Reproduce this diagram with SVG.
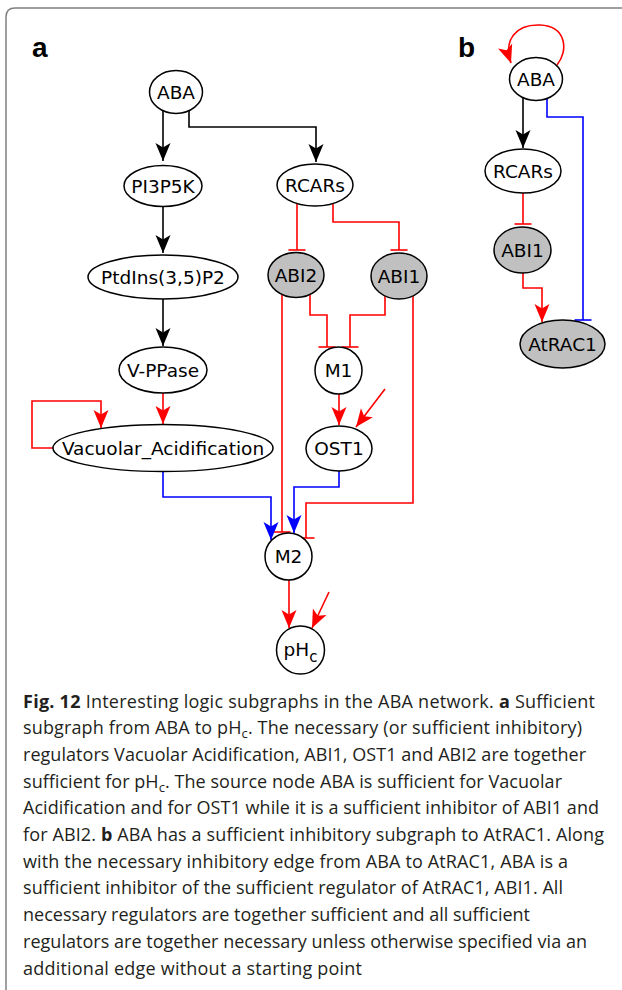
<svg xmlns="http://www.w3.org/2000/svg" width="622" height="990" viewBox="0 0 622 990">
  <style>
    .node ellipse, .node circle { fill: #fff; stroke: #000; stroke-width: 1.5; }
    .node.grey ellipse { fill: #c0c0c0; }
    .node text { font-family: "DejaVu Sans", sans-serif; font-size: 18.5px; text-anchor: middle; fill: #000; }
    .edge { fill: none; stroke-width: 1.6; }
    .k { stroke: #000; }
    .r { stroke: #ff0000; }
    .b { stroke: #0000ff; }
    .panel { font-family: "Liberation Sans", Arial, sans-serif; font-weight: bold; font-size: 28px; fill: #000; }
    .cap { font-family: "Open Sans", "Noto Sans", sans-serif; font-size: 18px; fill: #231f20; }
    .cap .bold { font-weight: bold; }
  </style>
  <defs>
    <marker id="ah-k" markerUnits="userSpaceOnUse" orient="auto" refX="0" refY="0" markerWidth="20" markerHeight="16" overflow="visible">
      <path d="M0,0 L-18,-7.5 L-13.5,0 L-18,7.5 Z" fill="#000"/>
    </marker>
    <marker id="ah-r" markerUnits="userSpaceOnUse" orient="auto" refX="0" refY="0" markerWidth="20" markerHeight="16" overflow="visible">
      <path d="M0,0 L-18,-7.5 L-13.5,0 L-18,7.5 Z" fill="#ff0000"/>
    </marker>
    <marker id="ah-b" markerUnits="userSpaceOnUse" orient="auto" refX="0" refY="0" markerWidth="20" markerHeight="16" overflow="visible">
      <path d="M0,0 L-18,-7.5 L-13.5,0 L-18,7.5 Z" fill="#0000ff"/>
    </marker>
    <marker id="tee-r" markerUnits="userSpaceOnUse" orient="auto" refX="0" refY="0" markerWidth="4" markerHeight="20" overflow="visible">
      <path d="M0,-8.5 V8.5" stroke="#ff0000" stroke-width="1.6"/>
    </marker>
    <marker id="tee-b" markerUnits="userSpaceOnUse" orient="auto" refX="0" refY="0" markerWidth="4" markerHeight="20" overflow="visible">
      <path d="M0,-8.5 V8.5" stroke="#0000ff" stroke-width="1.6"/>
    </marker>
  </defs>

  <rect width="622" height="990" fill="#fff"/>
  <!-- figure frame (open to the right and bottom) -->
  <path d="M6,990 V17 Q6,8 15,8 H622" fill="none" stroke="#808080" stroke-width="1.5"/>

  <text class="panel" x="32" y="57">a</text>
  <text class="panel" x="458" y="57">b</text>

  <!-- connectors -->
  <g id="edges">
    <!-- panel a -->
    <path class="edge k" d="M163,111 V161" marker-end="url(#ah-k)"/>
    <path class="edge k" d="M189,111 V127 H316 V162" marker-end="url(#ah-k)"/>
    <path class="edge k" d="M163,206 V253" marker-end="url(#ah-k)"/>
    <path class="edge k" d="M163,299 V346" marker-end="url(#ah-k)"/>
    <path class="edge r" d="M163,393 V424" marker-end="url(#ah-r)"/>
    <path class="edge r" d="M53,448 H32 V401 H101 V428" marker-end="url(#ah-r)"/>
    <path class="edge r" d="M297,204 V250" marker-end="url(#tee-r)"/>
    <path class="edge r" d="M333,204 V222 H399 V250" marker-end="url(#tee-r)"/>
    <path class="edge r" d="M310,295 V315 H327 V347" marker-end="url(#tee-r)"/>
    <path class="edge r" d="M385,296 V315 H350 V347" marker-end="url(#tee-r)"/>
    <path class="edge r" d="M339,394 V425" marker-end="url(#ah-r)"/>
    <path class="edge r" d="M385,389 L356,427" marker-end="url(#ah-r)"/>
    <path class="edge r" d="M282,295 V532" marker-end="url(#tee-r)"/>
    <path class="edge r" d="M413,296 V503 H306 V538" marker-end="url(#tee-r)"/>
    <path class="edge b" d="M163,472 V497 H271 V540" marker-end="url(#ah-b)"/>
    <path class="edge b" d="M339,471 V487 H294 V533" marker-end="url(#ah-b)"/>
    <path class="edge r" d="M289,580 V628" marker-end="url(#ah-r)"/>
    <path class="edge r" d="M329,592 L312,628" marker-end="url(#ah-r)"/>
    <!-- panel b -->
    <path class="edge r" d="M557,65 C569,50 566,26 540,25 C516,24 503,40 511,63" marker-end="url(#ah-r)"/>
    <path class="edge k" d="M523,98 V148" marker-end="url(#ah-k)"/>
    <path class="edge r" d="M523,193 V224" marker-end="url(#tee-r)"/>
    <path class="edge r" d="M523,273 V288 H542 V322" marker-end="url(#ah-r)"/>
    <path class="edge b" d="M547,98 V117 H583 V320" marker-end="url(#tee-b)"/>
  </g>

  <!-- panel a nodes -->
  <g id="a-ABA" class="node"><ellipse cx="176" cy="92" rx="26.5" ry="21.5"/><text x="176" y="98.5">ABA</text></g>
  <g id="a-PI3P5K" class="node"><ellipse cx="163" cy="186" rx="39" ry="20.5"/><text x="163" y="192.5">PI3P5K</text></g>
  <g id="a-RCARs" class="node"><ellipse cx="315" cy="185" rx="38" ry="21"/><text x="315" y="191.5">RCARs</text></g>
  <g id="a-PtdIns" class="node"><ellipse cx="163" cy="277" rx="75" ry="22"/><text x="163" y="283.5">PtdIns(3,5)P2</text></g>
  <g id="a-ABI2" class="node grey"><ellipse cx="296" cy="275" rx="28" ry="22.5"/><text x="296" y="281.5">ABI2</text></g>
  <g id="a-ABI1" class="node grey"><ellipse cx="399" cy="276" rx="28" ry="23"/><text x="399" y="282.5">ABI1</text></g>
  <g id="a-VPPase" class="node"><ellipse cx="163" cy="370" rx="44" ry="23"/><text x="163" y="376.5">V-PPase</text></g>
  <g id="a-M1" class="node"><circle cx="338.5" cy="370.5" r="23.5"/><text x="338.5" y="377">M1</text></g>
  <g id="a-Vacuolar" class="node"><ellipse cx="163" cy="448" rx="110" ry="23.5"/><text x="163" y="454.5">Vacuolar_Acidification</text></g>
  <g id="a-OST1" class="node"><ellipse cx="339" cy="448.5" rx="33" ry="22.5"/><text x="339" y="455">OST1</text></g>
  <g id="a-M2" class="node"><circle cx="288.5" cy="556.5" r="23.5"/><text x="288.5" y="563">M2</text></g>
  <g id="a-pHc" class="node"><circle cx="300.5" cy="650" r="24"/><text x="300.5" y="656">pH<tspan font-size="15" dy="6">c</tspan></text></g>

  <!-- panel b nodes -->
  <g id="b-ABA" class="node"><ellipse cx="536" cy="79" rx="26.5" ry="21.5"/><text x="536" y="85.5">ABA</text></g>
  <g id="b-RCARs" class="node"><ellipse cx="523" cy="171" rx="38" ry="22"/><text x="523" y="177.5">RCARs</text></g>
  <g id="b-ABI1" class="node grey"><ellipse cx="522.5" cy="250" rx="28.5" ry="23"/><text x="522.5" y="256.5">ABI1</text></g>
  <g id="b-AtRAC1" class="node grey"><ellipse cx="562.5" cy="344" rx="42.5" ry="24"/><text x="562.5" y="350.5">AtRAC1</text></g>

  <!-- caption -->
  <g id="caption" class="cap">
    <text x="23" y="707.5" textLength="572" lengthAdjust="spacing"><tspan class="bold">Fig. 12</tspan> Interesting logic subgraphs in the ABA network. <tspan class="bold">a</tspan> Sufficient</text>
    <text x="23" y="734.2" textLength="559" lengthAdjust="spacing">subgraph from ABA to pH<tspan font-size="13" dy="4">c</tspan><tspan dy="-4">. The necessary (or sufficient inhibitory)</tspan></text>
    <text x="23" y="760.9" textLength="563" lengthAdjust="spacing">regulators Vacuolar Acidification, ABI1, OST1 and ABI2 are together</text>
    <text x="23" y="787.6" textLength="539" lengthAdjust="spacing">sufficient for pH<tspan font-size="13" dy="4">c</tspan><tspan dy="-4">. The source node ABA is sufficient for Vacuolar</tspan></text>
    <text x="23" y="814.3" textLength="576" lengthAdjust="spacing">Acidification and for OST1 while it is a sufficient inhibitor of ABI1 and</text>
    <text x="23" y="841" textLength="581" lengthAdjust="spacing">for ABI2. <tspan class="bold">b</tspan> ABA has a sufficient inhibitory subgraph to AtRAC1. Along</text>
    <text x="23" y="867.7" textLength="545" lengthAdjust="spacing">with the necessary inhibitory edge from ABA to AtRAC1, ABA is a</text>
    <text x="23" y="894.4" textLength="540" lengthAdjust="spacing">sufficient inhibitor of the sufficient regulator of AtRAC1, ABI1. All</text>
    <text x="23" y="921.1" textLength="507" lengthAdjust="spacing">necessary regulators are together sufficient and all sufficient</text>
    <text x="23" y="947.8" textLength="564" lengthAdjust="spacing">regulators are together necessary unless otherwise specified via an</text>
    <text x="23" y="974.5" textLength="339" lengthAdjust="spacing">additional edge without a starting point</text>
  </g>
</svg>
